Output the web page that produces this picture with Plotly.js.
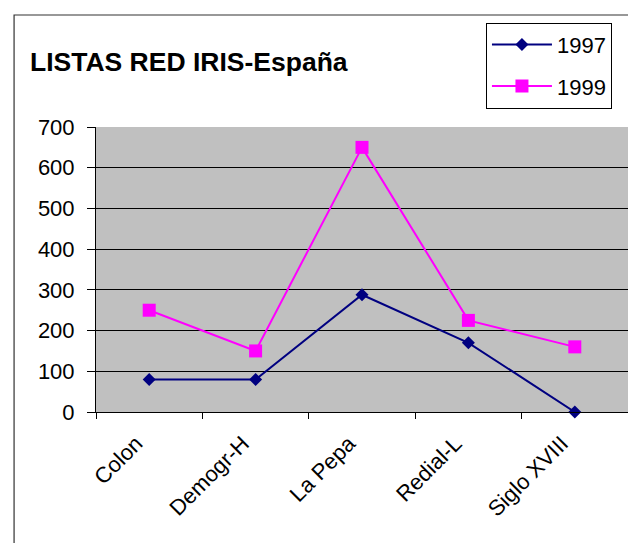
<!DOCTYPE html>
<html>
<head>
<meta charset="utf-8">
<script src="https://cdn.plot.ly/plotly-3.0.1.min.js"></script>
<style>
html,body{margin:0;padding:0;background:#fff;}
#chart{width:628px;height:543px;}
</style>
</head>
<body>
<div id="chart"></div>
<script>
const categories = ["Colon", "Demogr-H", "La Pepa", "Redial-L", "Siglo XVIII"];
const values1997 = [80, 80, 288, 170, 0];
const values1999 = [250, 150, 650, 225, 160];
const seriesNames = ["1997", "1999"];
const yTicks = [0, 100, 200, 300, 400, 500, 600, 700];

const FONT = "Arial, 'Liberation Sans', sans-serif";

const traces = [
  {
    x: categories, y: values1997, name: seriesNames[0], type: "scatter", mode: "lines+markers",
    legendgroup: "a",
    line: {color: "#000080", width: 2},
    marker: {symbol: "diamond", size: 10, color: "#000080"},
    cliponaxis: false
  },
  {
    x: categories, y: values1999, name: seriesNames[1], type: "scatter", mode: "lines+markers",
    legendgroup: "b",
    line: {color: "#ff00ff", width: 2},
    marker: {symbol: "square", size: 13, color: "#ff00ff"},
    cliponaxis: false
  }
];

const layout = {
  width: 628, height: 543,
  margin: {l: 96, r: 0, t: 127, b: 131, pad: 0},
  paper_bgcolor: "#ffffff",
  plot_bgcolor: "#c0c0c0",
  font: {family: FONT, size: 22, color: "#000"},
  title: {
    text: "<b>LISTAS RED IRIS-España</b>",
    font: {family: FONT, size: 26.5, color: "#000"},
    x: 30 / 628, xref: "container", xanchor: "left",
    y: 1 - 62 / 543, yref: "container", yanchor: "middle"
  },
  showlegend: true,
  legend: {
    x: 0.733, y: 1.366, xanchor: "left", yanchor: "top",
    xref: "paper", yref: "paper",
    bgcolor: "#fff", bordercolor: "#000", borderwidth: 1,
    font: {family: FONT, size: 22, color: "#000"},
    traceorder: "grouped", tracegroupgap: 10,
    itemwidth: 60
  },
  xaxis: {
    type: "category",
    range: [-0.5, 4.5],
    tickangle: -45,
    tickson: "boundaries",
    ticks: "outside", ticklen: 6, tickcolor: "#000", tickwidth: 1,
    ticklabelshift: -13,
    ticklabelstandoff: 9,
    showline: true, linecolor: "#000", linewidth: 1,
    showgrid: false, zeroline: false,
    tickfont: {family: FONT, size: 22, color: "#000"},
    fixedrange: true
  },
  yaxis: {
    range: [0, 700],
    tickvals: yTicks,
    ticktext: yTicks.map(String),
    ticks: "outside", ticklen: 8, tickcolor: "#000", tickwidth: 1,
    ticklabelstandoff: 8,
    showline: true, linecolor: "#000", linewidth: 1,
    showgrid: true, gridcolor: "#000", gridwidth: 1,
    zeroline: false,
    tickfont: {family: FONT, size: 22, color: "#000"},
    fixedrange: true
  },
  shapes: [
    {type: "rect", xref: "paper", yref: "paper",
     x0: -0.154, x1: 1.2, y0: -1.0, y1: 1.393,
     line: {color: "#333", width: 1.2}, fillcolor: "rgba(0,0,0,0)", layer: "below"}
  ]
};

Plotly.newPlot("chart", traces, layout, {displayModeBar: false, staticPlot: true});
</script>
</body>
</html>
